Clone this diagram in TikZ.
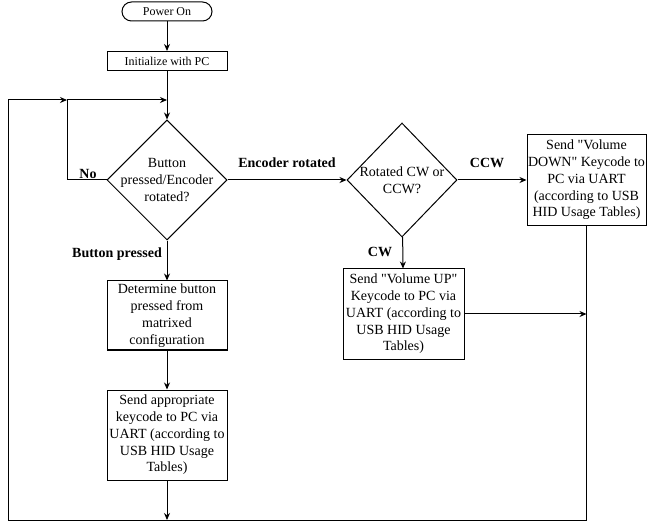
\documentclass[tikz,border=0pt]{standalone}
\usepackage{fontspec}
\setmainfont{Liberation Serif}
\newfontfamily\tmsfont{Liberation Serif}
\usetikzlibrary{shapes.geometric, arrows.meta}

\begin{document}
\begin{tikzpicture}[x=1pt, y=-1pt, line width=1pt,
    every node/.style={font=\tmsfont\fontsize{14}{16.8}\selectfont},
    box/.style={draw, rectangle, align=center, inner sep=0pt, minimum width=120pt},
    small/.style={font=\tmsfont\fontsize{12}{14}\selectfont, minimum height=19pt},
    start/.style={draw, rectangle, rounded corners=9.5pt, minimum width=90pt, inner sep=0pt},
    decision/.style={draw, diamond, inner sep=0pt},
    lbl/.style={font=\tmsfont\fontsize{14}{16}\selectfont\bfseries},
    arr/.style={-{Stealth[length=7pt,width=6pt]}}]
    \useasboundingbox (0,0) rectangle (648,529);

    % Start and initialisation
    \node[start, small] (pwr) at (167,11.5) {Power On};
    \node[box, small] (init) at (167,61) {Initialize with PC};

    % Decisions
    \node[decision, minimum width=120pt, minimum height=120pt] (dec) at (167,180) {};
    \node[align=center] (dectext) at (dec.center) {Button\\pressed/Encoder\\rotated?};
    \node[decision, minimum width=110pt, minimum height=114pt] (rot) at (402,180) {};
    \node[align=center] (rottext) at (rot.center) {Rotated CW or\\CCW?};

    % Action boxes
    \node[box, minimum width=119pt, minimum height=91pt] (down) at (586.5,180) {Send \textquotedbl Volume\\DOWN\textquotedbl{} Keycode to\\PC via UART\\(according to USB\\HID Usage Tables)};
    \node[box, minimum width=121pt, minimum height=90pt] (up) at (403.5,314) {Send \textquotedbl Volume UP\textquotedbl\\Keycode to PC via\\UART (according to\\USB HID Usage\\Tables)};
    \node[box, minimum height=69pt] (det) at (167,315.5) {Determine button\\pressed from\\matrixed\\configuration};
    \node[box, minimum height=90pt] (send) at (167,435) {Send appropriate\\keycode to PC via\\UART (according to\\USB HID Usage\\Tables)};

    % Junctions of the loop
    \coordinate (jl) at (67,100);
    \coordinate (jt) at (167,100);
    \coordinate (jb) at (167,520);
    \coordinate (lb) at (8,520);
    \coordinate (jr) at (down.south |- up.east);

    % Connectors
    \foreach \a/\b in {pwr/init, init/dec, dec/det, det/send}
        \draw[arr] (\a) -- (\b);
    \draw[arr] (send) -- (jb);
    \draw[arr] (dec) -- (rot);
    \draw[arr] (rot.east) -- (rot.east -| down.west);
    \draw[arr] (rot) -- (up);
    \draw[arr] (up.east) -- (jr);
    \draw[arr] (dec.west) -| (jl) -- (jt);
    \draw[arr] (down.south) |- (lb) |- (jl);

    % Labels
    \node[lbl] (lno) at (88,174) {No};
    \node[lbl] (lenc) at (287,163) {Encoder rotated};
    \node[lbl] (lbtn) at (117,254) {Button pressed};
    \node[lbl] (lccw) at (487,163) {CCW};
    \node[lbl] (lcw) at (380,252) {CW};
\end{tikzpicture}
\end{document}
